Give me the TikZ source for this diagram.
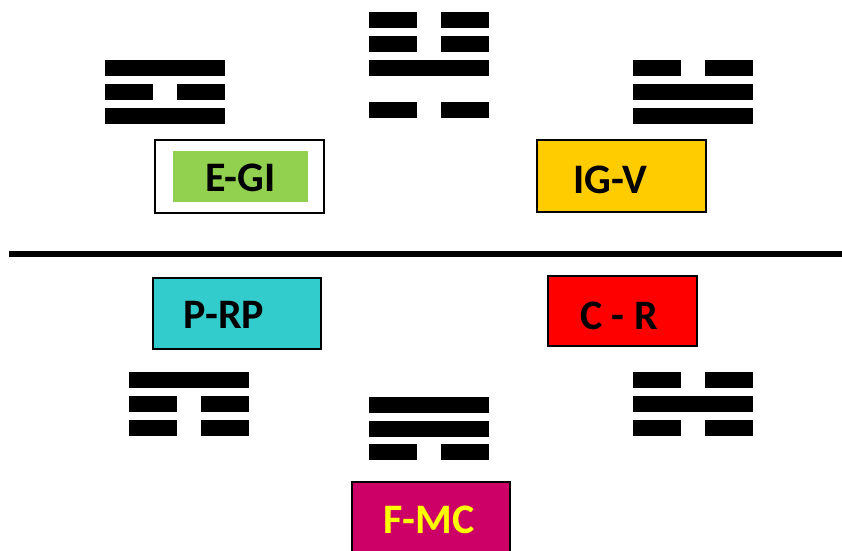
\documentclass[tikz,border=0pt]{standalone}
\usepackage{fontspec}
\setmainfont{Carlito}
\definecolor{egreen}{HTML}{92D050}
\definecolor{igyellow}{HTML}{FFCC00}
\definecolor{prteal}{HTML}{33CCCC}
\definecolor{crred}{HTML}{FF0000}
\definecolor{fmag}{HTML}{CC0066}
\definecolor{ftext}{HTML}{FFFF00}
\begin{document}
\begin{tikzpicture}[x=1pt,y=-1pt,
  bar/.style={fill=black},
  box/.style={draw=black,line width=1.4pt,inner sep=0pt},
  lbl/.style={font=\fontsize{42}{42}\selectfont\bfseries,anchor=base,inner sep=0pt}]
\useasboundingbox (0,0) rectangle (842,550);
\clip (0,0) rectangle (842,550);
\fill[white] (0,0) rectangle (842,550);

% top-left trigram
\fill[bar] (105,60) rectangle (225,76);
\fill[bar] (105,84) rectangle (153,100);
\fill[bar] (177,84) rectangle (225,100);
\fill[bar] (105,108) rectangle (225,124);

% top-centre figure
\fill[bar] (369,12) rectangle (417,28);
\fill[bar] (441,12) rectangle (489,28);
\fill[bar] (369,36) rectangle (417,52);
\fill[bar] (441,36) rectangle (489,52);
\fill[bar] (369,60) rectangle (489,76);
\fill[bar] (369,102) rectangle (417,118);
\fill[bar] (441,102) rectangle (489,118);

% top-right trigram
\fill[bar] (633,60) rectangle (681,76);
\fill[bar] (705,60) rectangle (753,76);
\fill[bar] (633,84) rectangle (753,100);
\fill[bar] (633,108) rectangle (753,124);

% bottom-left trigram
\fill[bar] (129,372) rectangle (249,388);
\fill[bar] (129,396) rectangle (177,412);
\fill[bar] (201,396) rectangle (249,412);
\fill[bar] (129,420) rectangle (177,436);
\fill[bar] (201,420) rectangle (249,436);

% bottom-centre trigram
\fill[bar] (369,397) rectangle (489,413);
\fill[bar] (369,421) rectangle (489,437);
\fill[bar] (369,444) rectangle (417,460);
\fill[bar] (441,444) rectangle (489,460);

% bottom-right trigram
\fill[bar] (633,372) rectangle (681,388);
\fill[bar] (705,372) rectangle (753,388);
\fill[bar] (633,396) rectangle (753,412);
\fill[bar] (633,420) rectangle (681,436);
\fill[bar] (705,420) rectangle (753,436);

% divider
\fill[black] (9,251) rectangle (842,257);

% boxes
\node[box,fill=white,minimum width=169pt,minimum height=73pt] (egiout) at (239.5,176.5) {};
\node[fill=egreen,inner sep=0pt,minimum width=135pt,minimum height=51pt] (egi) at (240.5,176.5) {};
\node[lbl] (egit) at (240.5,191) {E-GI};

\node[box,fill=igyellow,minimum width=169pt,minimum height=72pt] (igv) at (621.5,176) {};
\node[lbl] (igvt) at (610,193) {IG-V};

\node[box,fill=prteal,minimum width=168pt,minimum height=71pt] (prp) at (237,313.5) {};
\node[lbl] (prpt) at (224,328) {P-RP};

\node[box,fill=crred,minimum width=149pt,minimum height=70pt] (cr) at (622.5,311) {};
\node[lbl] (crt) at (619,329) {C - R};

\node[box,fill=fmag,minimum width=158pt,minimum height=76pt] (fmc) at (431,520) {};
\node[lbl,text=ftext] (fmct) at (429,533) {F-MC};
\end{tikzpicture}
\end{document}
